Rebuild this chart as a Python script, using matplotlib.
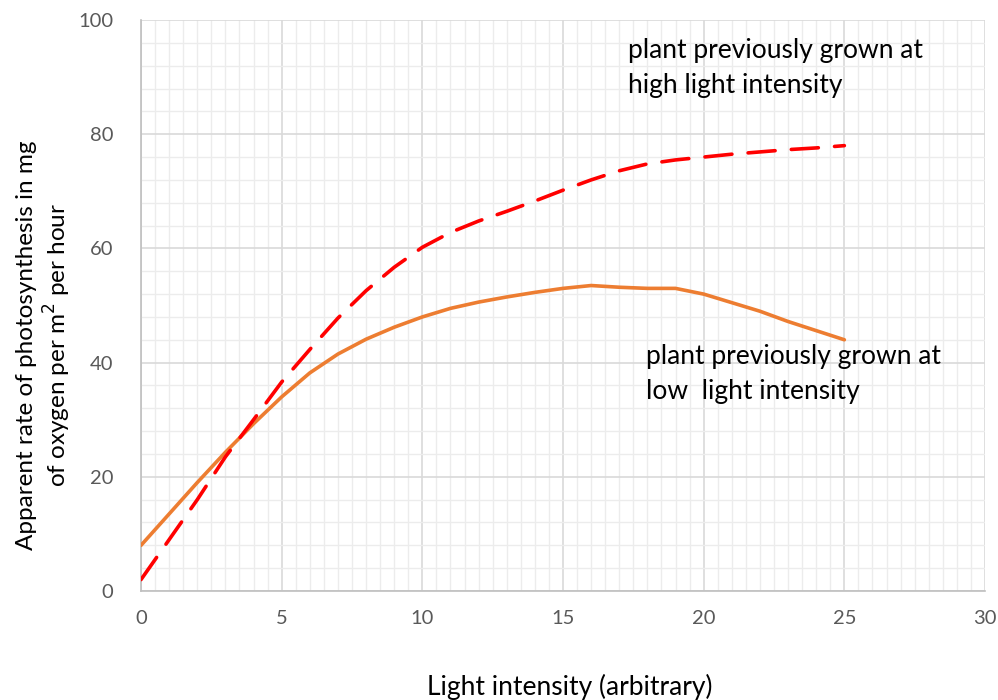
import matplotlib.pyplot as plt
import numpy as np

plt.rcParams['font.family'] = ['Lato', 'DejaVu Sans']

# light intensity values
x = [0, 1, 2, 3, 4, 5, 6, 7, 8, 9, 10, 11, 12, 13, 14, 15, 16, 17, 18, 19, 20, 21, 22, 23, 24, 25]

# plant previously grown at high light intensity
high = [2, 9, 16, 23.5, 30, 36.6, 42.3, 47.8, 52.6, 56.7, 60.2, 62.8, 64.8, 66.5, 68.3, 70.2,
        72, 73.6, 74.8, 75.5, 76, 76.5, 76.9, 77.3, 77.6, 78]

# plant previously grown at low light intensity
low = [8, 13.5, 19, 24.3, 29.3, 34, 38.2, 41.5, 44.1, 46.2, 48, 49.5, 50.6, 51.5, 52.3, 53,
       53.5, 53.2, 53, 53, 52, 50.5, 49, 47.2, 45.6, 44]

fig = plt.figure(figsize=(9.98, 7), dpi=100)
ax = fig.add_axes([0.1413, 0.1557, 0.8457, 0.8157])

ax.plot(x, low, color='#ED7D31', lw=2.6, solid_capstyle='round', solid_joinstyle='round', zorder=3)
ax.plot(x, high, color='#FF0000', lw=2.6, dashes=(7.5, 4.5), dash_capstyle='round', zorder=3)

ax.set_xlim(0, 30)
ax.set_ylim(0, 100)
ax.set_xticks(np.arange(0, 31, 5))
ax.set_yticks(np.arange(0, 101, 20))
ax.set_xticks(np.arange(0, 30.1, 0.5), minor=True)
ax.set_yticks(np.arange(0, 100.1, 4), minor=True)
ax.grid(which='major', color='#d9d9d9', lw=1.2)
ax.grid(which='minor', color='#ececec', lw=1.0)
ax.set_axisbelow(True)
ax.tick_params(which='both', length=0)
ax.tick_params(axis='x', pad=14, labelsize=14.5, labelcolor='#595959')
ax.tick_params(axis='y', pad=20, labelsize=14.5, labelcolor='#595959')
for s in ['top', 'right']:
    ax.spines[s].set_visible(False)
for s in ['left', 'bottom']:
    ax.spines[s].set_color('#bfbfbf')
    ax.spines[s].set_linewidth(1.2)

fig.text(0.571, 0.018, 'Light intensity (arbitrary)', fontsize=19, ha='center', va='center')
fig.text(0.045, 0.507, 'Apparent rate of photosynthesis in mg\nof oxygen per m$^2$ per hour',
         fontsize=17.5, rotation=90, ha='center', va='center', linespacing=1.2, multialignment='center')

ax.text(17.3, 96.8, 'plant previously grown at\nhigh light intensity', fontsize=19,
        va='top', ha='left', linespacing=1.5)
ax.text(17.95, 43.2, 'plant previously grown at\nlow  light intensity', fontsize=19,
        va='top', ha='left', linespacing=1.5)

fig.savefig('out.png', dpi=100)
